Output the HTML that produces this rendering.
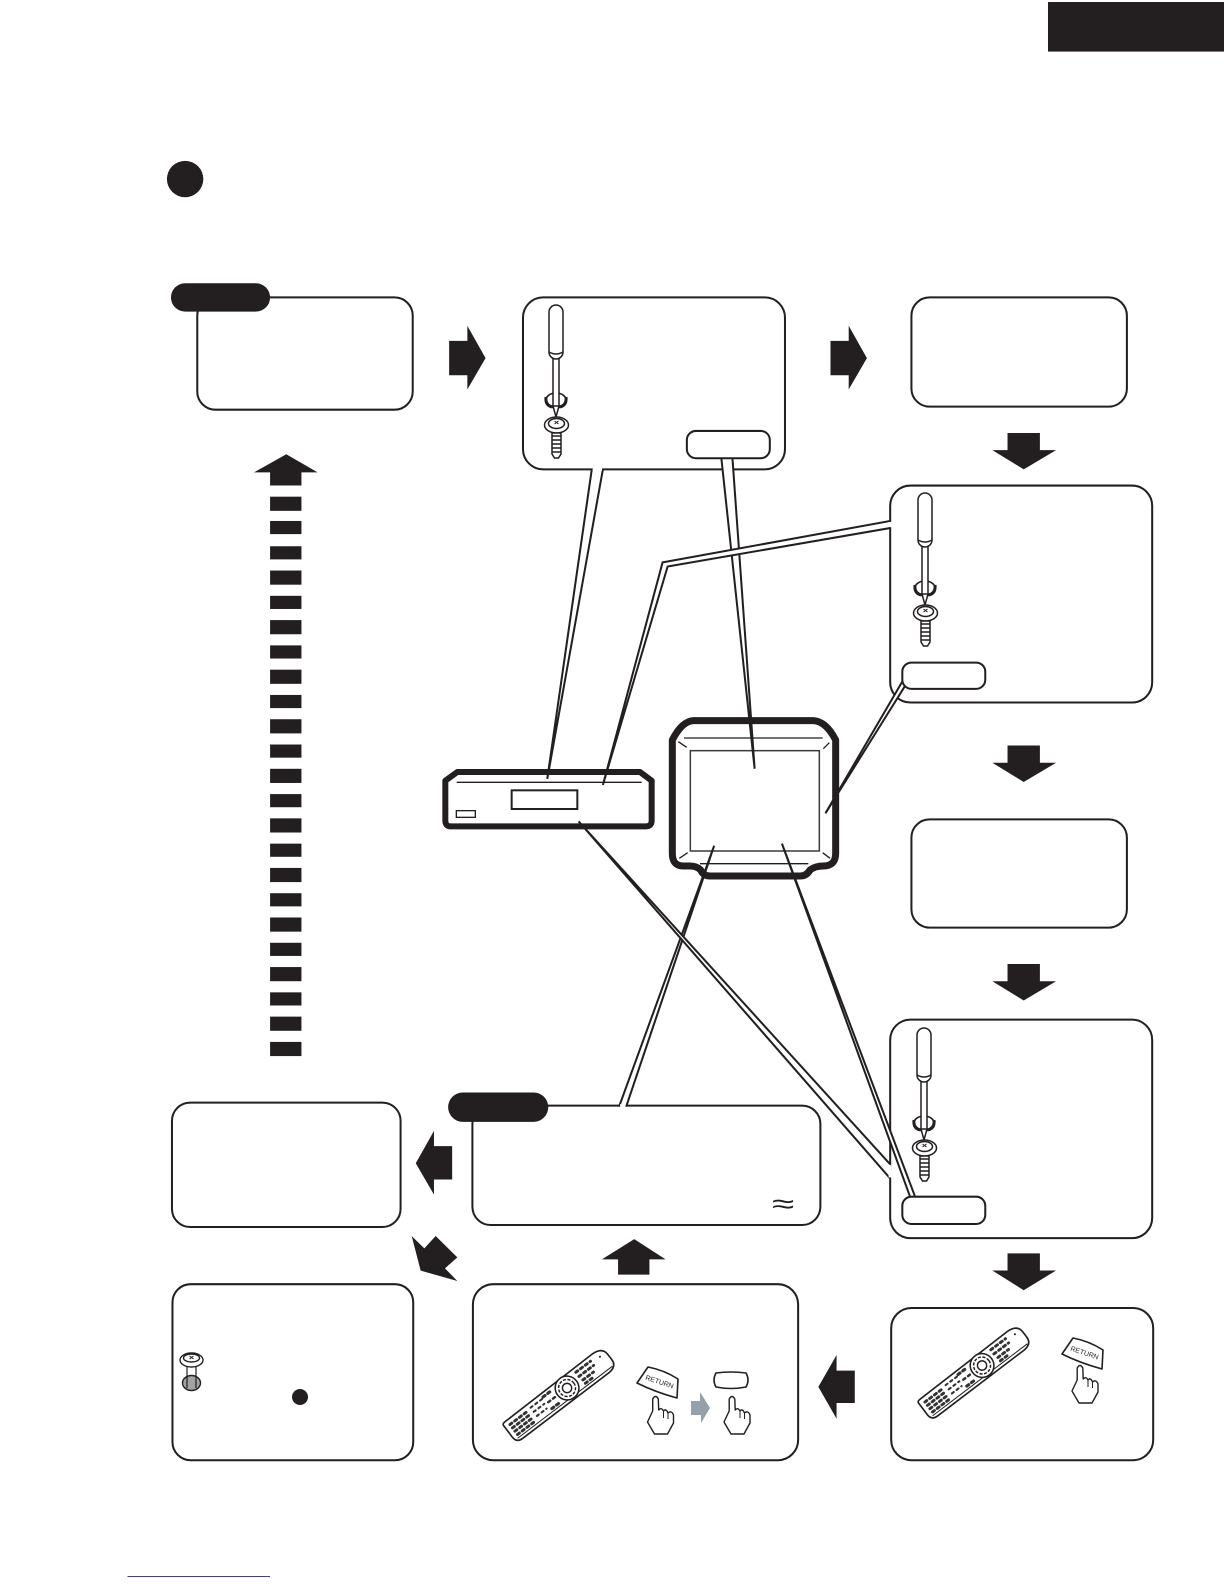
<!DOCTYPE html>
<html>
<head>
<meta charset="utf-8">
<style>
html,body{margin:0;padding:0;background:#fff}
svg{display:block}
text{font-family:"Liberation Sans",sans-serif}
</style>
</head>
<body>
<svg xmlns="http://www.w3.org/2000/svg" xmlns:xlink="http://www.w3.org/1999/xlink" width="1224" height="1584" viewBox="0 0 1224 1584">
<defs>
  <g id="driver" fill="#fff" stroke="#231f20" stroke-width="1.5">
    <ellipse cx="0" cy="95" rx="10" ry="7" fill="none" stroke-width="1.6"/>
    <path d="M-10,92 Q-11,100 -4,102 M10,92 Q11,100 4,102" fill="none" stroke-width="3"/>
    <path d="M-7,100 L-2,103 M7,100 L2,103" fill="none" stroke-width="2"/>
    <rect x="-3" y="52" width="6" height="50"/>
    <path d="M-3,101 L0,112 L3,101 Z"/>
    <rect x="-7" y="0" width="14" height="54" rx="7"/>
    <path d="M-7,47 Q0,51 7,47" fill="none"/>
    <ellipse cx="0.5" cy="120" rx="12" ry="8"/>
    <ellipse cx="0.5" cy="118.5" rx="8" ry="5"/>
    <path d="M-1.5,116 L2.5,119 M2.5,116 L-1.5,119" fill="none" stroke-width="1"/>
    <path d="M-4,128 L5,128 L5,149 L2.5,153 L-1.5,153 L-4,149 Z"/>
    <path d="M-4,131 L5,131 M-4,135 L5,135 M-4,139 L5,139 M-4,143 L5,143 M-4,147 L5,147" fill="none" stroke-width="1.4"/>
  </g>
  <g id="remote" fill="#fff" stroke="#231f20">
    <path d="M-61.5,-9 Q-61.5,-11 -58,-11 L50,-12.5 Q61.5,-12 61.5,-3 L61.5,3 Q61.5,11 52,11.5 L-54,12 Q-61.5,12 -61.5,5 Z" stroke-width="1.6"/>
    <path d="M-58,9 L58,8.5" fill="none" stroke-width="1"/>
    <g fill="none" stroke="#333" stroke-width="2.8" stroke-linecap="round" stroke-dasharray="2.4 3.4">
      <path d="M-56,-6 L-34,-6"/>
      <path d="M-56,-2 L-34,-2"/>
      <path d="M-56,2 L-34,2"/>
      <path d="M-56,6 L-34,6"/>
      <path d="M-30,-7 L-16,-7" stroke-width="2"/>
      <path d="M-30,-2 L-17,-2" stroke-width="2"/>
      <path d="M-30,3 L-18,3" stroke-width="2"/>
      <path d="M-14,-8 L-4,-8" stroke-width="3"/>
      <path d="M-14,6 L-4,6" stroke-width="3"/>
      <path d="M-13,-1 L-3,-1" stroke-width="2.4"/>
      <path d="M26,-8 L44,-8" stroke-width="2.8"/>
      <path d="M26,-3 L44,-3" stroke-width="2.8"/>
      <path d="M27,2 L40,2" stroke-width="2.8"/>
      <path d="M27,6 L38,6" stroke-width="2.8"/>
    </g>
    <circle cx="10" cy="-1" r="11.5" stroke-width="1.5"/>
    <circle cx="10" cy="-1" r="8.2" stroke-width="1.4" stroke-dasharray="3 1.4"/>
    <circle cx="10" cy="-1" r="4.5" stroke-width="1.4"/>
    <circle cx="54" cy="-6" r="1" fill="#231f20" stroke="none"/>
  </g>
  <g id="hand" fill="#fff" stroke="#231f20" stroke-width="1.4" stroke-linejoin="round">
    <path d="M-2.8,3 Q0,-2 2.8,3 L3.2,14 Q6,11 8,15 Q10.5,12 12.5,17 Q16,14 18,19 L18,27 L12,38 L-1,38 L-8,26 L-2.8,15 Z"/>
    <path d="M8,15 L8,22 M12.5,17 L12.5,23" fill="none" stroke-width="1"/>
  </g>
  <g id="returnkey">
    <path d="M648,1367 Q664,1370 678,1379 L677,1398 Q655,1392 637,1383 Z" fill="#fff" stroke="#231f20" stroke-width="1.6" stroke-linejoin="round"/>
    <text x="0" y="0" transform="translate(645,1379.5) rotate(18)" font-size="7" fill="#231f20">RETURN</text>
  </g>
</defs>

<rect width="1224" height="1584" fill="#fff"/>

<g transform="scale(1.01157)" fill="#fff" stroke="#231f20" stroke-width="2">
  <!-- header -->
  <rect x="1036" y="2" width="174" height="49" fill="#231f20" stroke="none"/>
  <circle cx="183" cy="177" r="18" fill="#231f20" stroke="none"/>
  <rect x="126" y="1558" width="141" height="1" fill="#3c3c8c" stroke="none"/>

  <!-- boxes -->
  <rect x="195" y="294" width="213" height="111" rx="18"/>
  <rect x="517" y="294" width="259" height="170" rx="20"/>
  <rect x="901" y="294" width="213" height="108" rx="18"/>
  <rect x="880" y="480" width="259" height="214.5" rx="20"/>
  <rect x="901" y="810" width="213" height="107" rx="18"/>
  <rect x="880" y="1008" width="259" height="216" rx="20"/>
  <rect x="881" y="1293" width="259" height="150.5" rx="20"/>
  <rect x="467.5" y="1269.5" width="321.5" height="174" rx="20"/>
  <rect x="170.5" y="1269.5" width="238" height="174" rx="18"/>
  <rect x="170" y="1090" width="226" height="123" rx="18"/>
  <rect x="467" y="1093" width="344" height="118" rx="18"/>

  <!-- up arrow and dashes -->
  <g fill="#231f20" stroke="none">
    <path d="M283,449 L314,467 L298,467 L298,480 L267,480 L267,467 L251,467 Z"/>
    <rect x="267" y="491" width="31" height="14"/>
    <rect x="267" y="515" width="31" height="13"/>
    <rect x="267" y="540" width="31" height="13"/>
    <rect x="267" y="564" width="31" height="14"/>
    <rect x="267" y="589" width="31" height="13"/>
    <rect x="267" y="613" width="31" height="14"/>
    <rect x="267" y="638" width="31" height="13"/>
    <rect x="267" y="662" width="31" height="14"/>
    <rect x="267" y="687" width="31" height="13"/>
    <rect x="267" y="711" width="31" height="14"/>
    <rect x="267" y="736" width="31" height="13"/>
    <rect x="267" y="760" width="31" height="14"/>
    <rect x="267" y="785" width="31" height="13"/>
    <rect x="267" y="809" width="31" height="14"/>
    <rect x="267" y="834" width="31" height="13"/>
    <rect x="267" y="858" width="31" height="14"/>
    <rect x="267" y="883" width="31" height="13"/>
    <rect x="267" y="907" width="31" height="14"/>
    <rect x="267" y="932" width="31" height="13"/>
    <rect x="267" y="956" width="31" height="14"/>
    <rect x="267" y="981" width="31" height="13"/>
    <rect x="267" y="1005" width="31" height="14"/>
    <rect x="267" y="1030" width="31" height="14"/>

    <!-- block arrows -->
    <path d="M444,337 L462,337 L462,322 L480,354 L462,385 L462,371 L444,371 Z"/>
    <path d="M821,337 L839,337 L839,322 L857,354 L839,385 L839,371 L821,371 Z"/>
    <path d="M996,428 L1028,428 L1028,445 L1044,445 L1012,464 L981,445 L996,445 Z"/>
    <path d="M996,737 L1028,737 L1028,754 L1044,754 L1012,773 L981,754 L996,754 Z"/>
    <path d="M996,953 L1028,953 L1028,970 L1044,970 L1012,989 L981,970 L996,970 Z"/>
    <path d="M996,1239 L1028,1239 L1028,1256 L1044,1256 L1012,1275.5 L981,1256 L996,1256 Z"/>
    <path d="M447,1133 L429,1133 L429,1118 L411,1150 L429,1181 L429,1166 L447,1166 Z"/>
    <path d="M845,1355 L827,1355 L827,1339.5 L809,1371 L827,1402.5 L827,1387 L845,1387 Z"/>
    <path d="M611,1260 L611,1245 L595,1245 L627,1225 L658,1245 L642,1245 L642,1260 Z"/>
  </g>
</g>

<!-- diagonal arrow -->
<g transform="translate(405,1225) scale(.3333)" fill="#231f20">
  <path d="M20,33 L58,70 L92,33 L157,97 L120,130 L157,168 L47,137 Z"/>
</g>

<!-- device and TV -->
<g transform="translate(420,690) scale(.33333)" fill="none" stroke="#231f20">
  <path d="M112,246 L660,246 L695,272 L695,392 Q695,409 678,409 L92,409 Q76,409 76,392 L76,272 Z" stroke-width="18" stroke-linejoin="round"/>
  <path d="M110,277 L665,277" stroke-width="4"/>
  <rect x="275" y="301" width="197" height="56" stroke-width="6"/>
  <rect x="109" y="362" width="57" height="20" stroke-width="4"/>

  <path d="M820,92 L1180,92 Q1218,94 1247,150 L1247,490 Q1247,528 1210,528 Q1185,528 1170,540 Q1160,558 1140,558 L870,558 Q850,558 842,540 Q830,528 810,528 L790,528 Q757,528 757,490 L757,150 Q786,94 820,92 Z" stroke-width="21" stroke-linejoin="round"/>
  <path d="M792,144 L1208,144" stroke-width="4"/>
  <rect x="811" y="182" width="387" height="301" stroke-width="4.5" stroke="#3a3a3a"/>
  <path d="M840,521 L1165,521" stroke-width="4"/>
  <path d="M775,155 L800,172 M1228,158 L1210,176 M778,505 L803,488 M1208,488 L1230,505" stroke-width="4"/>
</g>

<!-- leader lines and pills -->
<g transform="scale(1.01157)" fill="#fff" stroke="#231f20" stroke-width="2">
  <path d="M585,464 L541,770 L596,464"/>
  <path d="M586,464 L595,464" stroke="#fff" stroke-width="3"/>
  <path d="M713,452 L746,760 L724,452"/>
  <path d="M880,515 L655,556 L596,776 L660,560 L880,522"/>
  <path d="M880,516 L880,521" stroke="#fff" stroke-width="3"/>
  <path d="M893,672 L816,804 L896,676"/>
  <path d="M612,1094 L706,836 L619,1094"/>
  <path d="M613,1093 L618,1093" stroke="#fff" stroke-width="3"/>
  <path d="M880,1151 L572,812 L880,1165"/>
  <path d="M879.5,1152 L880,1164" stroke="#fff" stroke-width="3"/>
  <path d="M900,1184 L773,834 L905,1184"/>

  <rect x="679" y="426" width="82" height="27" rx="9"/>
  <rect x="892" y="655" width="82" height="26" rx="9"/>
  <rect x="892" y="1183" width="82" height="27" rx="9"/>
  <rect x="169" y="280" width="98" height="28" rx="14" fill="#231f20" stroke="none"/>
  <rect x="443" y="1080" width="99" height="29" rx="14.5" fill="#231f20" stroke="none"/>
</g>

<!-- screwdrivers -->
<use xlink:href="#driver" href="#driver" transform="translate(556,305)"/>
<use xlink:href="#driver" href="#driver" transform="translate(925,493)"/>
<use xlink:href="#driver" href="#driver" transform="translate(924,1028)"/>

<!-- remotes -->
<use xlink:href="#remote" href="#remote" transform="translate(559.5,1395) rotate(-37) scale(1.025,1.04)"/>
<use xlink:href="#remote" href="#remote" transform="translate(974.5,1372.5) rotate(-37) scale(1.025,1.04)"/>

<!-- box 8 keys -->
<use xlink:href="#returnkey" href="#returnkey"/>
<use xlink:href="#hand" href="#hand" transform="translate(655.5,1396)"/>
<path d="M691,1401 L700,1401 L700,1392 L710,1408 L701,1423 L701,1415 L691,1415 Z" fill="#94a0aa"/>
<path d="M716,1373 Q731,1371 746,1373 Q750,1380 746,1387 Q731,1390 716,1387 Q712,1380 716,1373 Z" fill="#fff" stroke="#231f20" stroke-width="1.6"/>
<use xlink:href="#hand" href="#hand" transform="translate(732,1396)"/>

<!-- box 7 keys -->
<use xlink:href="#returnkey" href="#returnkey" transform="translate(425,-29)"/>
<use xlink:href="#hand" href="#hand" transform="translate(1080,1365)"/>

<!-- box 9 screw and dot -->
<g fill="#fff" stroke="#231f20" stroke-width="1.4">
  <ellipse cx="191.5" cy="1383" rx="9" ry="7.5" fill="#a3a3a3"/>
  <path d="M187,1367 L187,1388 M196,1367 L196,1388" fill="none" stroke-width="1.2"/>
  <ellipse cx="191.5" cy="1360" rx="11.5" ry="7"/>
  <ellipse cx="191.5" cy="1358" rx="8" ry="4"/>
  <path d="M189.5,1356 L193.5,1359 M193.5,1356 L189.5,1359" fill="none" stroke-width="1"/>
</g>
<circle cx="300" cy="1397" r="8" fill="#231f20"/>

<!-- approx sign -->
<text x="0" y="0" transform="translate(772,1213) scale(1.5,1)" font-size="27" fill="#231f20">≈</text>
</svg>
</body>
</html>
